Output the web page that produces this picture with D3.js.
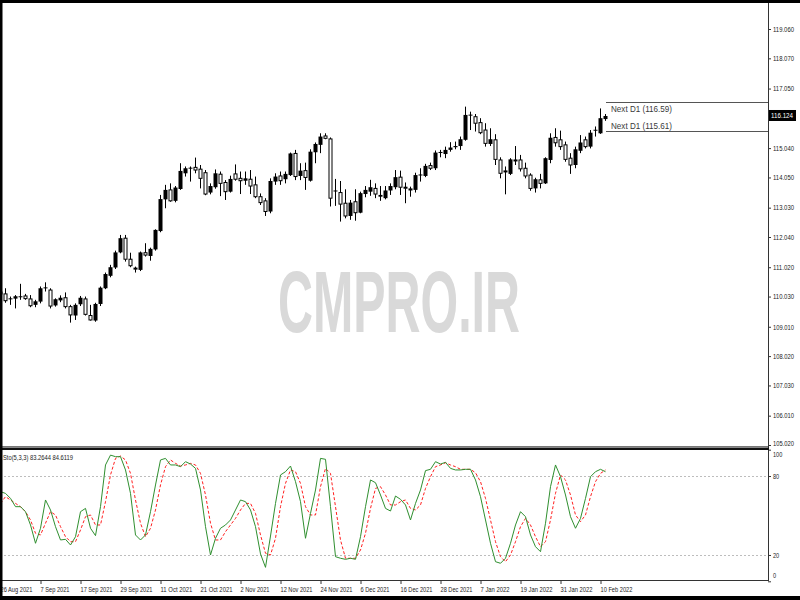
<!DOCTYPE html>
<html><head><meta charset="utf-8">
<script src="https://cdn.jsdelivr.net/npm/d3@7"></script>
<style>
body{margin:0;background:#fff}
svg{display:block}
text{font-family:"Liberation Sans",Arial,sans-serif}
</style>
</head><body>
<svg id="chart" width="800" height="600"></svg>
<script>
const dates=["26 Aug 2021","27 Aug 2021","30 Aug 2021","31 Aug 2021",
"1 Sep 2021","2 Sep 2021","3 Sep 2021","6 Sep 2021","7 Sep 2021","8 Sep 2021","9 Sep 2021","10 Sep 2021","13 Sep 2021","14 Sep 2021","15 Sep 2021","16 Sep 2021","17 Sep 2021","20 Sep 2021","21 Sep 2021","22 Sep 2021","23 Sep 2021","24 Sep 2021","27 Sep 2021","28 Sep 2021","29 Sep 2021","30 Sep 2021",
"1 Oct 2021","4 Oct 2021","5 Oct 2021","6 Oct 2021","7 Oct 2021","8 Oct 2021","11 Oct 2021","12 Oct 2021","13 Oct 2021","14 Oct 2021","15 Oct 2021","18 Oct 2021","19 Oct 2021","20 Oct 2021","21 Oct 2021","22 Oct 2021","25 Oct 2021","26 Oct 2021","27 Oct 2021","28 Oct 2021","29 Oct 2021",
"1 Nov 2021","2 Nov 2021","3 Nov 2021","4 Nov 2021","5 Nov 2021","8 Nov 2021","9 Nov 2021","10 Nov 2021","11 Nov 2021","12 Nov 2021","15 Nov 2021","16 Nov 2021","17 Nov 2021","18 Nov 2021","19 Nov 2021","22 Nov 2021","23 Nov 2021","24 Nov 2021","25 Nov 2021","26 Nov 2021","29 Nov 2021","30 Nov 2021",
"1 Dec 2021","2 Dec 2021","3 Dec 2021","6 Dec 2021","7 Dec 2021","8 Dec 2021","9 Dec 2021","10 Dec 2021","13 Dec 2021","14 Dec 2021","15 Dec 2021","16 Dec 2021","17 Dec 2021","20 Dec 2021","21 Dec 2021","22 Dec 2021","23 Dec 2021","24 Dec 2021","27 Dec 2021","28 Dec 2021","29 Dec 2021","30 Dec 2021","31 Dec 2021",
"3 Jan 2022","4 Jan 2022","5 Jan 2022","6 Jan 2022","7 Jan 2022","10 Jan 2022","11 Jan 2022","12 Jan 2022","13 Jan 2022","14 Jan 2022","17 Jan 2022","18 Jan 2022","19 Jan 2022","20 Jan 2022","21 Jan 2022","24 Jan 2022","25 Jan 2022","26 Jan 2022","27 Jan 2022","28 Jan 2022","31 Jan 2022",
"1 Feb 2022","2 Feb 2022","3 Feb 2022","4 Feb 2022","7 Feb 2022","8 Feb 2022","9 Feb 2022","10 Feb 2022","11 Feb 2022"];

const openP=[110.10,110.12,109.94,109.96,110.03,110.05,109.95,109.75,109.86,110.31,110.25,109.73,109.90,109.99,109.69,109.39,109.77,109.95,109.39,109.22,
109.78,110.31,110.73,111.01,111.52,112.00,111.29,110.99,110.93,111.51,111.40,111.62,112.24,113.31,113.63,113.26,113.66,114.19,114.36,114.39,
114.33,114.21,113.54,113.72,114.16,113.88,113.57,114.17,114.02,113.94,113.99,113.80,113.40,113.26,112.90,113.91,114.10,113.99,114.13,114.86,
114.10,114.28,113.94,114.90,115.15,115.45,115.35,113.58,113.54,113.18,112.75,113.23,112.86,113.49,113.57,113.68,113.40,113.35,113.61,113.72,
114.06,113.72,113.61,113.63,114.13,114.10,114.45,114.36,114.89,114.84,114.98,115.07,115.11,115.32,116.15,116.10,115.90,115.65,115.18,115.32,
114.64,114.27,114.17,114.64,114.64,114.36,114.13,113.68,113.97,113.85,114.64,115.40,115.32,115.15,114.70,114.47,114.95,115.32,115.09,115.65,
115.54,116.02];
const highP=[110.30,110.31,110.03,110.08,110.46,110.12,110.08,109.92,110.37,110.51,110.31,109.97,110.07,110.17,109.75,109.80,110.05,110.03,109.75,109.82,
110.37,110.84,111.10,111.58,112.11,112.11,111.51,111.04,111.55,111.83,111.68,112.30,113.46,113.80,113.85,113.76,114.53,114.42,114.42,114.72,
114.47,114.30,113.85,114.32,114.25,113.96,114.11,114.49,114.25,114.25,114.30,114.08,113.51,113.35,114.02,114.19,114.25,114.25,114.89,114.98,
114.53,114.55,115.00,115.23,115.54,115.54,115.40,114.00,113.93,113.65,113.29,113.65,113.57,113.76,113.97,113.85,113.76,113.76,113.85,114.30,
114.28,113.88,113.74,114.21,114.36,114.51,114.55,114.96,114.98,115.09,115.24,115.26,115.43,116.44,116.27,116.19,116.05,115.88,115.71,115.51,
114.73,114.42,114.70,115.11,114.81,114.55,114.19,114.04,114.17,114.73,115.54,115.71,115.63,115.26,114.87,115.09,115.48,115.43,115.65,115.77,
116.38,116.19];
const lowP=[109.95,109.82,109.75,109.63,109.92,109.92,109.67,109.67,109.80,110.20,109.63,109.69,109.84,109.63,109.15,109.24,109.71,109.39,109.22,109.18,
109.71,110.28,110.68,110.96,111.49,111.21,111.02,110.84,110.89,111.38,111.24,111.58,112.20,113.01,113.23,113.21,113.63,114.08,113.91,114.19,
113.68,113.45,113.48,113.67,113.42,113.29,113.54,113.94,113.49,113.80,113.49,113.35,113.12,112.75,112.84,113.80,113.80,113.85,114.10,113.96,
113.96,113.63,113.91,114.53,114.87,115.34,113.07,113.09,112.56,112.67,112.62,112.59,112.84,113.38,113.43,113.35,113.26,113.31,113.46,113.65,
113.46,113.18,113.40,113.54,113.91,114.06,114.30,114.30,114.73,114.70,114.92,115.00,114.98,115.29,115.65,115.60,115.51,115.09,115.11,114.47,
114.02,113.48,114.13,114.47,114.25,114.02,113.60,113.54,113.68,113.83,114.53,115.09,114.98,114.58,114.17,114.36,114.87,115.03,115.03,115.43,
115.52,115.96];
const closeP=[110.20,109.89,109.97,110.04,110.04,109.96,109.72,109.87,110.31,110.34,109.71,109.94,109.99,109.69,109.41,109.75,109.99,109.43,109.24,109.78,
110.33,110.79,111.02,111.52,112.00,111.29,111.07,110.96,111.52,111.43,111.64,112.28,113.32,113.63,113.26,113.71,114.27,114.36,114.38,114.30,
114.02,113.49,113.76,114.19,113.85,113.57,114.00,113.99,113.94,114.02,113.76,113.40,113.20,112.90,113.93,114.08,113.94,114.17,114.86,114.08,
114.28,114.05,114.92,115.18,115.43,115.37,113.35,113.61,113.15,112.75,113.20,112.86,113.52,113.63,113.72,113.49,113.46,113.61,113.76,114.06,
113.72,113.70,113.68,114.13,114.15,114.44,114.36,114.89,114.91,114.98,115.06,115.11,115.34,116.16,116.17,115.88,115.56,115.20,115.34,114.66,
114.19,114.25,114.66,114.62,114.34,114.10,113.68,113.99,113.85,114.70,115.39,115.22,115.09,114.66,114.47,115.00,115.23,115.09,115.56,115.66,
116.05,116.124];

const stochMain=[68.1,66.8,63.0,56.7,56.7,52.9,42.8,28.9,40.3,61.8,54.2,41.5,31.4,31.9,27.6,33.9,52.9,55.4,40.3,34.7,
56.7,88.4,95.9,94.7,94.7,84.6,66.8,35.2,31.4,35.2,52.9,73.2,92.2,93.4,88.4,88.4,87.1,90.9,89.1,85.8,
69.4,41.5,20.0,32.7,40.3,42.8,46.6,54.2,61.8,60.5,54.2,41.5,20.8,10.6,34.4,59.2,80.8,83.3,87.6,75.7,
60.5,32.7,51.6,69.4,93.4,92.7,56.7,18.7,17.5,16.7,17.5,16.7,33.9,56.7,77.0,74.9,65.6,55.4,53.4,64.8,
62.3,58.0,46.6,59.2,69.4,84.1,85.1,90.9,89.1,90.4,85.8,84.6,84.6,85.1,85.1,77.0,64.3,46.6,28.9,14.9,
13.7,17.5,28.9,42.8,52.9,49.1,35.2,26.3,22.5,44.1,71.9,88.4,79.5,65.6,49.1,40.3,47.8,63.0,79.5,83.3,
85.1,83.2644];
const stochSignal=[59.2,64.3,61.8,59.2,56.7,52.9,46.6,36.5,35.2,44.1,52.9,50.4,41.5,33.9,30.1,30.1,39.0,49.1,50.4,42.8,
42.8,60.5,80.8,93.4,95.2,92.2,82.0,61.8,44.1,33.9,40.3,54.2,73.2,87.1,92.2,89.6,87.6,88.4,89.6,88.4,
82.0,65.6,44.1,31.4,31.4,37.7,42.8,47.8,54.2,59.2,59.2,51.6,35.2,21.3,20.0,32.7,56.7,74.4,84.6,83.3,
74.4,56.7,50.4,50.4,71.9,85.8,82.0,56.7,31.4,17.5,17.5,17.5,23.8,36.5,55.4,70.6,71.9,65.6,58.0,58.0,
60.5,61.8,55.4,54.2,58.0,70.6,79.5,87.1,88.4,90.1,88.4,87.1,85.1,85.1,85.1,82.5,75.7,63.0,46.6,30.1,
18.7,14.9,20.0,30.1,41.5,47.8,42.8,33.9,26.3,30.1,46.6,66.8,80.8,77.0,65.6,50.4,45.3,50.4,64.3,75.7,
82.0,84.6119];

const priceTicks=[119.060,118.070,117.050,115.040,114.050,113.030,112.040,111.020,110.030,109.010,108.020,107.030,106.010,105.020];
const stochTicks=[100,80,20,0];
const stochLevels=[80,20];
const dateTicks=["26 Aug 2021","7 Sep 2021","17 Sep 2021","29 Sep 2021","11 Oct 2021","21 Oct 2021","2 Nov 2021","12 Nov 2021","24 Nov 2021","6 Dec 2021","16 Dec 2021","28 Dec 2021","7 Jan 2022","19 Jan 2022","31 Jan 2022","10 Feb 2022"];
const nextLevels=[116.59,115.61];
const lastPrice=116.124;
const stochLabel="Sto(5,3,3) 83.2644 84.6119";
const watermark="CMPRO.IR";

const svg=d3.select("#chart");
const AX=768;
const x=d3.scalePoint().domain(dates).range([0,605]);
const y=d3.scaleLinear().domain([105.02,119.06]).range([445,29]);
const ys=d3.scaleLinear().domain([0,100]).range([581.3,449.7]);

svg.append("rect").attr("width",800).attr("height",600).attr("fill","#fff");

const defs=svg.append("defs");
defs.append("clipPath").attr("id","cm").append("rect").attr("x",0).attr("y",3).attr("width",AX).attr("height",444);
defs.append("clipPath").attr("id","cs").append("rect").attr("x",0).attr("y",450).attr("width",AX).attr("height",130);

// watermark
svg.append("text").text(watermark).attr("x",278).attr("y",332)
  .attr("font-size",88).attr("font-weight","bold").attr("fill","#d9d9d9")
  .attr("textLength",242).attr("lengthAdjust","spacingAndGlyphs");

// candles
const gC=svg.append("g").attr("clip-path","url(#cm)");
const idx=d3.range(dates.length);
gC.selectAll("line.w").data(idx).join("line")
  .attr("x1",i=>x(dates[i])+0.5).attr("x2",i=>x(dates[i])+0.5)
  .attr("y1",i=>y(highP[i])).attr("y2",i=>y(lowP[i]))
  .attr("stroke","#000").attr("stroke-width",1);
gC.selectAll("rect.b").data(idx).join("rect")
  .attr("x",i=>closeP[i]>=openP[i]?x(dates[i])-1.5:x(dates[i])-1)
  .attr("width",i=>closeP[i]>=openP[i]?4:3)
  .attr("y",i=>y(Math.max(openP[i],closeP[i])))
  .attr("height",i=>Math.max(1,Math.abs(y(openP[i])-y(closeP[i]))))
  .attr("fill",i=>closeP[i]>=openP[i]?"#000":"#fff")
  .attr("stroke",i=>closeP[i]>=openP[i]?"none":"#000")
  .attr("stroke-width",1);

// next D1 lines
nextLevels.forEach((lv,k)=>{
  const yy=Math.round(y(lv))+0.5;
  svg.append("line").attr("x1",606).attr("x2",AX).attr("y1",yy).attr("y2",yy)
    .attr("stroke","#555").attr("stroke-width",1);
  svg.append("text").text(`Next D1 (${lv.toFixed(2)})`)
    .attr("x",611).attr("y",k===0?yy+6:yy-6).attr("dy","0.35em")
    .attr("font-size",9.5).attr("fill","#3a3a3a")
    .attr("textLength",61).attr("lengthAdjust","spacingAndGlyphs");
});

// price axis
const pa=svg.append("g").attr("transform",`translate(${AX},0)`)
  .call(d3.axisRight(y).tickValues(priceTicks).tickFormat(d3.format(".3f")).tickSize(3).tickPadding(2));
pa.select(".domain").remove();
pa.selectAll("line").attr("stroke","#333");
pa.selectAll("text").attr("font-size",7).attr("fill","#222").attr("font-family","Liberation Sans, Arial, sans-serif")
  .attr("y",d=>d<105.5?-1.5:0)
  .attr("textLength",21).attr("lengthAdjust","spacingAndGlyphs");

// current price label
svg.append("rect").attr("x",769).attr("y",y(lastPrice)-6).attr("width",27).attr("height",11).attr("fill","#000");
svg.append("text").text(d3.format(".3f")(lastPrice)).attr("x",771).attr("y",y(lastPrice)-0.5).attr("dy","0.35em")
  .attr("font-size",7).attr("fill","#fff").attr("textLength",22).attr("lengthAdjust","spacingAndGlyphs");

// stochastic levels
const gS=svg.append("g").attr("clip-path","url(#cs)");
gS.selectAll("line.lv").data(stochLevels).join("line")
  .attr("x1",0).attr("x2",AX).attr("y1",d=>Math.round(ys(d))+0.5).attr("y2",d=>Math.round(ys(d))+0.5)
  .attr("stroke","#bdbdbd").attr("stroke-width",1).attr("stroke-dasharray","2,2");
const ln=d3.line().x((d,i)=>x(dates[i])+0.5).y(d=>ys(d));
gS.append("path").datum(stochSignal).attr("d",ln).attr("fill","none")
  .attr("stroke","#ff2020").attr("stroke-width",1).attr("stroke-dasharray","3,2");
gS.append("path").datum(stochMain).attr("d",ln).attr("fill","none")
  .attr("stroke","#2f8f2f").attr("stroke-width",1);

svg.append("text").text(stochLabel).attr("x",3).attr("y",457).attr("dy","0.35em")
  .attr("font-size",7.5).attr("fill","#222").attr("textLength",70).attr("lengthAdjust","spacingAndGlyphs");

// stoch axis
const sa=svg.append("g").attr("transform",`translate(${AX},0)`)
  .call(d3.axisRight(ys).tickValues(stochTicks).tickSize(3).tickPadding(2));
sa.select(".domain").remove();
sa.selectAll("line").attr("stroke","#333");
sa.selectAll("text").attr("font-size",7).attr("fill","#222")
  .attr("y",d=>d===100?5:(d===0?-6:0))
  .attr("textLength",d=>String(d).length*3.1).attr("lengthAdjust","spacingAndGlyphs");

// time axis
const ta=svg.append("g").attr("transform","translate(0.5,580)")
  .call(d3.axisBottom(x).tickValues(dateTicks).tickSize(4));
ta.select(".domain").remove();
ta.selectAll("line").attr("stroke","#333");
ta.selectAll("text").attr("text-anchor","start").attr("x",-0.5).attr("y",10).attr("dy","0.32em")
  .attr("font-size",7).attr("fill","#222")
  .attr("textLength",d=>d.length*2.9).attr("lengthAdjust","spacingAndGlyphs");

// frame lines
svg.append("line").attr("x1",AX+0.5).attr("x2",AX+0.5).attr("y1",0).attr("y2",581).attr("stroke","#333");
svg.append("line").attr("x1",0).attr("x2",AX+1).attr("y1",580.5).attr("y2",580.5).attr("stroke","#333");
svg.append("line").attr("x1",0).attr("x2",AX).attr("y1",446.5).attr("y2",446.5).attr("stroke","#777");
svg.append("rect").attr("x",0).attr("y",447.5).attr("width",AX+1).attr("height",2.5).attr("fill","#111");
// outer black border
svg.append("rect").attr("x",0).attr("y",0).attr("width",800).attr("height",3).attr("fill","#000");
svg.append("rect").attr("x",0).attr("y",0).attr("width",2.5).attr("height",600).attr("fill","#000");
svg.append("rect").attr("x",0).attr("y",596).attr("width",800).attr("height",4).attr("fill","#000");
</script>
</body></html>
